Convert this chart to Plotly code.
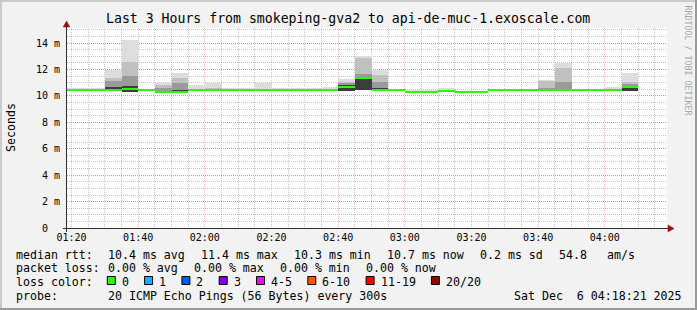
import plotly.graph_objects as go

# ---------------- data ----------------
DAY = "2025-12-06 "
interval_start = ["01:15", "01:20", "01:25", "01:30", "01:35", "01:40", "01:45", "01:50",
                  "01:55", "02:00", "02:05", "02:10", "02:15", "02:20", "02:25", "02:30",
                  "02:35", "02:40", "02:45", "02:50", "02:55", "03:00", "03:05", "03:10",
                  "03:15", "03:20", "03:25", "03:30", "03:35", "03:40", "03:45", "03:50",
                  "03:55", "04:00", "04:05"]
# rtt in milliseconds
rtt_max = [10.58, 10.58, 10.58, 11.97, 14.24, 10.47, 10.96, 11.77, 10.83, 11.00, 10.58, 10.58,
           10.95, 10.58, 10.58, 10.58, 10.68, 11.32, 13.03, 11.97, 10.46, 10.45, 10.45, 10.58,
           10.36, 10.36, 10.46, 10.46, 10.46, 11.21, 12.47, 10.46, 10.46, 10.70, 11.72]
rtt_p85 = [10.46, 10.46, 10.46, 11.37, 12.60, 10.45, 10.83, 11.39, 10.55, 10.62, 10.47, 10.47,
           10.55, 10.47, 10.47, 10.47, 10.50, 11.08, 12.85, 11.60, 10.45, 10.40, 10.40, 10.48,
           10.34, 10.34, 10.45, 10.45, 10.45, 11.13, 12.15, 10.45, 10.45, 10.50, 11.09]
rtt_p70 = [10.44, 10.44, 10.44, 11.16, 11.50, 10.44, 10.58, 11.00, 10.47, 10.48, 10.45, 10.45,
           10.47, 10.45, 10.45, 10.45, 10.46, 10.95, 11.70, 11.08, 10.44, 10.38, 10.38, 10.44,
           10.33, 10.33, 10.44, 10.44, 10.44, 10.58, 11.09, 10.44, 10.44, 10.45, 10.89]
rtt_p55 = [10.43, 10.43, 10.43, 10.65, 10.75, 10.43, 10.38, 10.45, 10.44, 10.44, 10.43, 10.43,
           10.44, 10.43, 10.43, 10.43, 10.44, 10.83, 11.46, 10.58, 10.43, 10.36, 10.36, 10.42,
           10.32, 10.32, 10.43, 10.43, 10.43, 10.47, 10.55, 10.43, 10.43, 10.43, 10.78]
rtt_median = [10.42, 10.42, 10.42, 10.43, 10.50, 10.42, 10.33, 10.33, 10.42, 10.42, 10.42, 10.42,
              10.42, 10.42, 10.42, 10.42, 10.42, 10.70, 11.38, 10.48, 10.42, 10.34, 10.34, 10.40,
              10.31, 10.31, 10.42, 10.42, 10.42, 10.42, 10.42, 10.42, 10.42, 10.42, 10.70]
rtt_min = [10.38, 10.38, 10.38, 10.38, 10.33, 10.40, 10.30, 10.30, 10.40, 10.40, 10.40, 10.40,
           10.40, 10.40, 10.40, 10.40, 10.40, 10.40, 10.45, 10.42, 10.40, 10.30, 10.30, 10.37,
           10.28, 10.28, 10.40, 10.40, 10.40, 10.40, 10.40, 10.40, 10.40, 10.40, 10.38]

y_tickvals = [0, 2, 4, 6, 8, 10, 12, 14]
y_ticktext = ["0\u00a0\u00a0", "2 m", "4 m", "6 m", "8 m", "10 m", "12 m", "14 m"]

loss_labels = ["0", "1", "2", "3", "4-5", "6-10", "11-19", "20/20"]
loss_colors = ["#26ff00", "#00b8ff", "#0059ff", "#7e00ff", "#ff00ff", "#ff5500", "#ff0000", "#a10000"]

legend_rtt = ["10.4 ms avg", "11.4 ms max", "10.3 ms min", "10.7 ms now", "0.2 ms sd", "54.8", "am/s"]
legend_loss = ["0.00 % avg", "0.00 % max", "0.00 % min", "0.00 % now"]
probe_text = "20 ICMP Echo Pings (56 Bytes) every 300s"
stamp_text = "Sat Dec\u00a0\u00a06 04:18:21 2025"
title_text = "Last 3 Hours from smokeping-gva2 to api-de-muc-1.exoscale.com"

# ---------------- geometry ----------------
W, H = 697, 310
PL, PR, PT, PB = 67, 667, 28, 228
MONO = "DejaVu Sans Mono"
STEP_MS = 300000
MEDIAN_PX = 2.0
YMAX = 15.15
px_per_ms = (PB - PT) / YMAX


def fx(x):
    return (x - PL) / (PR - PL)


def fy(y):
    return (PB - y) / (PB - PT)


xs = [DAY + t + ":00" for t in interval_start]

fig = go.Figure()
bands = [(rtt_max, "#dddddd"), (rtt_p85, "#c0c0c0"), (rtt_p70, "#9a9a9a"), (rtt_p55, "#3c3c3c")]
for top, col in bands:
    fig.add_trace(go.Bar(
        x=xs, y=[t - b for t, b in zip(top, rtt_min)], base=rtt_min,
        width=STEP_MS, offset=0, marker=dict(color=col, line=dict(width=0)),
        hoverinfo="skip", showlegend=False))

half = MEDIAN_PX / 2 / px_per_ms
fig.add_trace(go.Bar(
    x=xs, y=[2 * half] * len(rtt_median), base=[m - half for m in rtt_median],
    width=STEP_MS, offset=0, marker=dict(color=loss_colors[0], line=dict(width=0)),
    hoverinfo="skip", showlegend=False))

MAJ = "rgba(235,80,80,0.38)"
MIN_ = "rgba(130,130,130,0.45)"

fig.update_layout(
    width=W, height=H,
    margin=dict(l=PL, r=W - PR, t=PT, b=H - PB, pad=0),
    paper_bgcolor="#f2f2f2", plot_bgcolor="#ffffff",
    barmode="overlay", bargap=0,
    showlegend=False,
    font=dict(family=MONO, color="#000000"),
    xaxis=dict(
        type="date",
        range=[DAY + "01:18:39", DAY + "04:18:39"],
        tick0=DAY + "01:20:00", dtick=1200000, tickformat="%H:%M",
        showgrid=True, gridcolor=MAJ, griddash="1px,1px", gridwidth=1,
        minor=dict(dtick=STEP_MS, tick0=DAY + "01:20:00", showgrid=True,
                   gridcolor=MIN_, griddash="1px,1px", gridwidth=1),
        zeroline=False, showline=False, ticks="",
        tickfont=dict(family=MONO, size=10, color="#000000"),
        ticklabelstandoff=2, fixedrange=True),
    yaxis=dict(
        range=[0, YMAX], tickvals=y_tickvals, ticktext=y_ticktext,
        showgrid=True, gridcolor=MAJ, griddash="1px,1px", gridwidth=1,
        minor=dict(dtick=0.5, showgrid=True, gridcolor=MIN_, griddash="1px,1px", gridwidth=1),
        zeroline=False, showline=False, ticks="",
        tickfont=dict(family=MONO, size=10, color="#000000"),
        ticklabelstandoff=6, fixedrange=True),
)

shapes = []
# frame shading
shapes.append(dict(type="rect", xref="paper", yref="paper", x0=fx(0), x1=fx(W), y0=fy(0), y1=fy(2),
                   fillcolor="#cbcbcb", line=dict(width=0), layer="below"))
shapes.append(dict(type="rect", xref="paper", yref="paper", x0=fx(0), x1=fx(2), y0=fy(0), y1=fy(H),
                   fillcolor="#cbcbcb", line=dict(width=0), layer="below"))
shapes.append(dict(type="rect", xref="paper", yref="paper", x0=fx(0), x1=fx(W), y0=fy(H - 2), y1=fy(H),
                   fillcolor="#9a9a9a", line=dict(width=0), layer="below"))
shapes.append(dict(type="rect", xref="paper", yref="paper", x0=fx(W - 2), x1=fx(W), y0=fy(0), y1=fy(H),
                   fillcolor="#9a9a9a", line=dict(width=0), layer="below"))
# axes
shapes.append(dict(type="line", xref="paper", yref="paper", x0=fx(63), x1=fx(669), y0=fy(228.5), y1=fy(228.5),
                   line=dict(color="#303030", width=1)))
shapes.append(dict(type="line", xref="paper", yref="paper", x0=fx(66.5), x1=fx(66.5), y0=fy(232), y1=fy(25),
                   line=dict(color="#303030", width=1)))


def tri(pts):
    return "M " + " L ".join(f"{fx(a):.5f},{fy(b):.5f}" for a, b in pts) + " Z"


shapes.append(dict(type="path", xref="paper", yref="paper", path=tri([(668, 225), (674, 228.5), (668, 232)]),
                   fillcolor="#9a1010", line=dict(color="#9a1010", width=0.5)))
shapes.append(dict(type="path", xref="paper", yref="paper", path=tri([(63.2, 27), (66.5, 21), (69.8, 27)]),
                   fillcolor="#9a1010", line=dict(color="#9a1010", width=0.5)))

annotations = []


def txt(s, x, y, size=11.6, anchor="left", color="#000000", angle=0, yanchor="middle"):
    annotations.append(dict(text=s.replace(" ", "\u00a0"), xref="paper", yref="paper", x=fx(x), y=fy(y),
                            xanchor=anchor, yanchor=yanchor, showarrow=False, borderpad=0,
                            textangle=angle, font=dict(family=MONO, size=size, color=color)))


txt(title_text, 347.5, 18.5, size=13.2, anchor="center")
txt("Seconds", 11, 128, size=11.6, anchor="center", angle=-90)
txt("RRDTOOL / TOBI OETIKER", 687.5, 60, size=8.3, anchor="center", color="#a8a8a8", angle=90)

LX = 15.3
ROWS = [254.5, 268.3, 282.0, 295.8]
CW = 7.0
GAP = 16.0
txt("median rtt:", LX, ROWS[0])
x = 106.6
for i, s in enumerate(legend_rtt):
    txt(s, x, ROWS[0])
    x += len(s) * CW + GAP
    if i == 5:
        x += 4

txt("packet loss:", LX, ROWS[1])
x = 106.6
for s in legend_loss:
    txt(s, x, ROWS[1])
    x += len(s) * CW + GAP

txt("loss color:", LX, ROWS[2])
bx = 107.3
for lab, col in zip(loss_labels, loss_colors):
    shapes.append(dict(type="rect", xref="paper", yref="paper", x0=fx(bx), x1=fx(bx + 8), y0=fy(284.5),
                       y1=fy(276.5), fillcolor=col, line=dict(color="#000000", width=1)))
    lx = bx + 13.6
    txt(lab, lx, ROWS[2])
    bx = lx + len(lab) * CW + GAP + 0.7

txt("probe:", LX, ROWS[3])
txt(probe_text, 106.6, ROWS[3])
txt(stamp_text, 512.6, ROWS[3])

fig.update_layout(shapes=shapes, annotations=annotations)
fig.write_html("out.html")
